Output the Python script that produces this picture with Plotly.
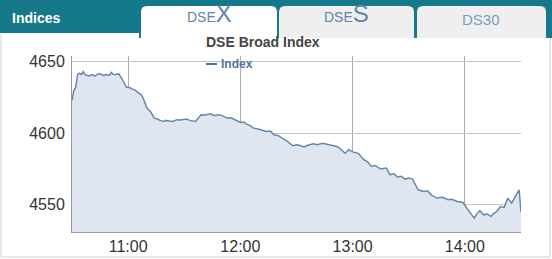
import plotly.graph_objects as go

DAY = "2024-01-01 "
times = ["10:30", "10:31", "10:32", "10:33", "10:34", "10:35", "10:36", "10:37", "10:38", "10:39",
         "10:41", "10:42", "10:44", "10:45", "10:47", "10:48", "10:50", "10:51", "10:52", "10:53",
         "10:55", "10:57", "10:59", "11:01", "11:02", "11:04", "11:05", "11:07", "11:08", "11:10",
         "11:12", "11:14", "11:16", "11:17", "11:19", "11:20", "11:22", "11:24", "11:26", "11:28",
         "11:31", "11:33", "11:36", "11:38", "11:39", "11:41", "11:44", "11:46", "11:49", "11:51",
         "11:53", "11:55", "11:57", "12:00", "12:02", "12:03", "12:05", "12:07", "12:09", "12:11",
         "12:14", "12:16", "12:18", "12:20", "12:23", "12:25", "12:28", "12:30", "12:31", "12:34",
         "12:36", "12:39", "12:41", "12:44", "12:47", "12:50", "12:52", "12:54", "12:56", "12:58",
         "13:00", "13:03", "13:06", "13:08", "13:10", "13:12", "13:15", "13:18", "13:20", "13:22",
         "13:24", "13:26", "13:28", "13:30", "13:32", "13:35", "13:38", "13:40", "13:42", "13:45",
         "13:48", "13:51", "13:53", "13:56", "13:59", "14:01", "14:03", "14:05", "14:06", "14:08",
         "14:10", "14:12", "14:14", "14:15", "14:17", "14:19", "14:21", "14:22", "14:23", "14:25",
         "14:27", "14:28", "14:29", "14:30"]
index_values = [4623, 4630, 4632, 4641, 4642, 4641, 4643, 4641, 4640.5, 4640,
                4641, 4640, 4641.5, 4641.6, 4640.2, 4641, 4640.4, 4642.5, 4641.2, 4641,
                4641.5, 4637.4, 4632.3, 4631.8, 4631, 4630, 4628.6, 4627, 4624.6, 4617.8,
                4615, 4610.6, 4609.8, 4609, 4608.2, 4609, 4608.5, 4608.3, 4609.5, 4609.2,
                4610, 4609, 4608.3, 4611, 4613, 4612.8, 4613.6, 4612.5, 4613, 4611.8,
                4610.6, 4610.8, 4609.5, 4607.6, 4607.9, 4606.6, 4605.5, 4603.6, 4603.2, 4602.5,
                4601.2, 4601.5, 4599, 4598.5, 4596, 4594.5, 4591.3, 4592, 4591.8, 4590.4,
                4591.6, 4592.7, 4592, 4593, 4592.2, 4591.3, 4590.6, 4588.5, 4586, 4588.5,
                4587, 4586, 4581.5, 4580, 4576.8, 4577.5, 4575, 4575.7, 4571, 4571.8,
                4569.4, 4570, 4568, 4568.8, 4568, 4560.5, 4559.3, 4559.8, 4557, 4554.7,
                4555.2, 4553.5, 4553.9, 4552.3, 4551.6, 4547.7, 4544.5, 4540.7, 4543, 4546,
                4543, 4543.6, 4541.8, 4543.5, 4545.3, 4548.8, 4548.2, 4551, 4554.7, 4551.2,
                4556, 4558, 4560.5, 4545]
tick_labels = ["11:00", "12:00", "13:00", "14:00"]
y_ticks = [4550, 4600, 4650]

W, H = 552, 259
ML, MR, MT, MB = 72, 31, 56, 27
PW, PH = W - ML - MR, H - MT - MB


def PX(x):
    return (x - ML) / PW


def PY(y):
    return (H - MB - y) / PH


fig = go.Figure()
fig.add_trace(go.Scatter(
    x=[DAY + t for t in times], y=index_values, mode="lines", name="Index",
    line=dict(color="#6787ab", width=1.5), fill="tozeroy", fillcolor="#dfe6ef",
    hoverinfo="skip", showlegend=False))

shapes = []
TEAL = "#16788b"
shapes.append(dict(type="rect", xref="paper", yref="paper", x0=PX(0), x1=PX(W), y0=PY(33), y1=PY(0),
                   fillcolor=TEAL, line_width=0, layer="above"))
shapes.append(dict(type="rect", xref="paper", yref="paper", x0=PX(139), x1=PX(W), y0=PY(38), y1=PY(33),
                   fillcolor=TEAL, line_width=0, layer="above"))


def tab_path(x0, x1, y0, y1, r=6):
    a, b = PX(x0), PX(x1)
    top, bot = PY(y0), PY(y1)
    rx, ry = r / PW, r / PH
    return (f"M {a},{bot} L {a},{top - ry} Q {a},{top} {a + rx},{top} L {b - rx},{top} "
            f"Q {b},{top} {b},{top - ry} L {b},{bot} Z")


shapes.append(dict(type="path", xref="paper", yref="paper", path=tab_path(141, 277, 6, 40),
                   fillcolor="#ffffff", line_width=0, layer="above"))
shapes.append(dict(type="path", xref="paper", yref="paper", path=tab_path(279, 414, 6, 38),
                   fillcolor="#efefef", line_width=0, layer="above"))
shapes.append(dict(type="path", xref="paper", yref="paper", path=tab_path(417, 546, 6, 38),
                   fillcolor="#efefef", line_width=0, layer="above"))
shapes.append(dict(type="line", xref="paper", yref="paper", x0=PX(1), x1=PX(1), y0=PY(257), y1=PY(34),
                   line=dict(color="#d0d0d0", width=1)))
shapes.append(dict(type="line", xref="paper", yref="paper", x0=PX(1), x1=PX(550), y0=PY(257), y1=PY(257),
                   line=dict(color="#d0d0d0", width=1)))
shapes.append(dict(type="line", xref="paper", yref="paper", x0=PX(550), x1=PX(550), y0=PY(257), y1=PY(38),
                   line=dict(color="#d0d0d0", width=1)))
shapes.append(dict(type="line", xref="paper", yref="paper", x0=PX(206), x1=PX(217), y0=PY(64), y1=PY(64),
                   line=dict(color="#4f74a0", width=2)))

FONT = "Liberation Sans, Arial, sans-serif"
ann = []
ann.append(dict(xref="paper", yref="paper", x=PX(10), y=PY(18), text="<b>Indices</b>", showarrow=False,
                xanchor="left", yanchor="middle", font=dict(family=FONT, size=14, color="#ffffff")))
ann.append(dict(xref="paper", yref="paper", x=PX(209), y=PY(29), text="DSE<span style='font-size:24px'>X</span>",
                showarrow=False, xanchor="center", yanchor="bottom", font=dict(family=FONT, size=14, color="#5f84ad")))
ann.append(dict(xref="paper", yref="paper", x=PX(346), y=PY(29), text="DSE<span style='font-size:24px'>S</span>",
                showarrow=False, xanchor="center", yanchor="bottom", font=dict(family=FONT, size=14, color="#5f84ad")))
ann.append(dict(xref="paper", yref="paper", x=PX(481), y=PY(20), text="DS30",
                showarrow=False, xanchor="center", yanchor="middle", font=dict(family=FONT, size=15, color="#7b9cc2")))
ann.append(dict(xref="paper", yref="paper", x=PX(204), y=PY(42), text="<b>DSE Broad Index</b>",
                showarrow=False, xanchor="left", yanchor="middle", font=dict(family=FONT, size=14, color="#444444")))
ann.append(dict(xref="paper", yref="paper", x=PX(219), y=PY(64), text="<b>Index</b>",
                showarrow=False, xanchor="left", yanchor="middle", font=dict(family=FONT, size=12, color="#4f74a0")))

fig.update_layout(
    width=W, height=H, margin=dict(l=ML, r=MR, t=MT, b=MB, pad=0, autoexpand=False),
    paper_bgcolor="#ffffff", plot_bgcolor="#ffffff", showlegend=False,
    shapes=shapes, annotations=ann,
    font=dict(family=FONT, size=16, color="#333333"),
    xaxis=dict(type="date", range=[DAY + "10:30", DAY + "14:30"], automargin=False,
               tickvals=[DAY + t for t in tick_labels], ticktext=tick_labels,
               showgrid=True, gridcolor="#acacac", gridwidth=1, showline=True, linecolor="#9a9a9a",
               ticks="", zeroline=False, tickfont=dict(size=16, color="#333333")),
    yaxis=dict(range=[4531, 4654], tickvals=y_ticks, ticktext=[str(v) for v in y_ticks], automargin=False,
               showgrid=True, gridcolor="#c4c4c4", gridwidth=1, showline=True, linecolor="#9a9a9a",
               ticks="outside", ticklen=3, tickcolor="rgba(0,0,0,0)", zeroline=False,
               tickfont=dict(size=16, color="#333333")),
)

fig.write_html("out.html", config={"displayModeBar": False})
